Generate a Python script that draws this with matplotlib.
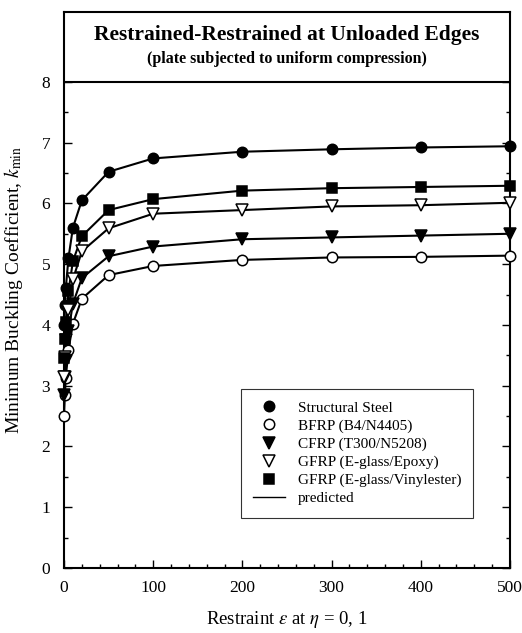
import numpy as np
import matplotlib
matplotlib.use("Agg")
import matplotlib.pyplot as plt
from matplotlib.ticker import MultipleLocator, FixedLocator

plt.rcParams['font.family'] = ['Liberation Serif', 'DejaVu Serif']
plt.rcParams['mathtext.fontset'] = 'stix'

# restraint values
eps = [0, 1, 2, 5, 10, 20, 50, 100, 200, 300, 400, 500]

# minimum buckling coefficient for each material
steel = [4.00, 4.33, 4.60, 5.10, 5.60, 6.05, 6.52, 6.74, 6.85, 6.89, 6.92, 6.94]
bfrp = [2.50, 2.85, 3.13, 3.59, 4.02, 4.43, 4.82, 4.97, 5.07, 5.11, 5.12, 5.14]
cfrp = [2.84, 3.15, 3.40, 3.90, 4.35, 4.77, 5.13, 5.29, 5.41, 5.44, 5.47, 5.50]
gfrp_epoxy = [3.15, 3.47, 3.75, 4.25, 4.75, 5.21, 5.59, 5.83, 5.89, 5.95, 5.97, 6.01]
gfrp_vinyl = [3.45, 3.77, 4.05, 4.55, 5.05, 5.46, 5.89, 6.07, 6.21, 6.25, 6.27, 6.29]

labels = ['Structural Steel', 'BFRP (B4/N4405)', 'CFRP (T300/N5208)',
          'GFRP (E-glass/Epoxy)', 'GFRP (E-glass/Vinylester)']

fig = plt.figure(figsize=(5.22, 6.33), dpi=100)
ax = fig.add_axes([0.1226, 0.1027, 0.8544, 0.8784])

series = [
    (steel, 'o', 'black', 7.5),
    (bfrp, 'o', 'white', 7.5),
    (cfrp, 'v', 'black', 8),
    (gfrp_epoxy, 'v', 'white', 8),
    (gfrp_vinyl, 's', 'black', 7),
]

handles = []
for (vals, m, fc, ms), lab in zip(series, labels):
    ax.plot(eps, vals, color='black', lw=1.5, zorder=2)
    h, = ax.plot(eps, vals, ls='none', marker=m, ms=ms, mfc=fc, mec='black',
                 mew=1.1, clip_on=False, zorder=3, label=lab)
    handles.append(h)
pred, = ax.plot([], [], color='black', lw=1.0, label='predicted')
handles.append(pred)

ax.set_xlim(0, 500)
ax.set_ylim(0, 9.15)
ax.axhline(8, color='black', lw=1.5)

ax.xaxis.set_major_locator(MultipleLocator(100))
ax.xaxis.set_minor_locator(MultipleLocator(20))
ax.yaxis.set_major_locator(FixedLocator(range(0, 9)))
ax.yaxis.set_minor_locator(FixedLocator(np.arange(0.5, 8, 1.0)))
ax.tick_params(which='both', direction='in', left=True, right=True,
               top=False, bottom=True, labelsize=12.5, width=1.0)
ax.tick_params(which='major', length=6)
ax.tick_params(which='minor', length=3)
ax.tick_params(axis='x', pad=9)
ax.tick_params(axis='y', pad=10)
for s in ax.spines.values():
    s.set_linewidth(1.5)

ax.text(250, 8.77, 'Restrained-Restrained at Unloaded Edges', ha='center',
        va='center', fontsize=15.5, fontweight='bold')
ax.text(250, 8.38, '(plate subjected to uniform compression)', ha='center',
        va='center', fontsize=11.5, fontweight='bold')

ax.set_xlabel(r'Restraint $\varepsilon$ at $\eta$ = 0, 1', fontsize=13.5, labelpad=9)
ax.set_ylabel(r'Minimum Buckling Coefficient, $k_{\mathrm{min}}$', fontsize=14, labelpad=12)

leg = ax.legend(handles=handles, loc='lower right', bbox_to_anchor=(0.935, 0.077),
                fontsize=11, frameon=True, fancybox=False, edgecolor='black',
                handlelength=2.1, borderpad=0.8, labelspacing=0.28)
leg.get_frame().set_linewidth(0.8)

fig.savefig('out.png', dpi=100)
